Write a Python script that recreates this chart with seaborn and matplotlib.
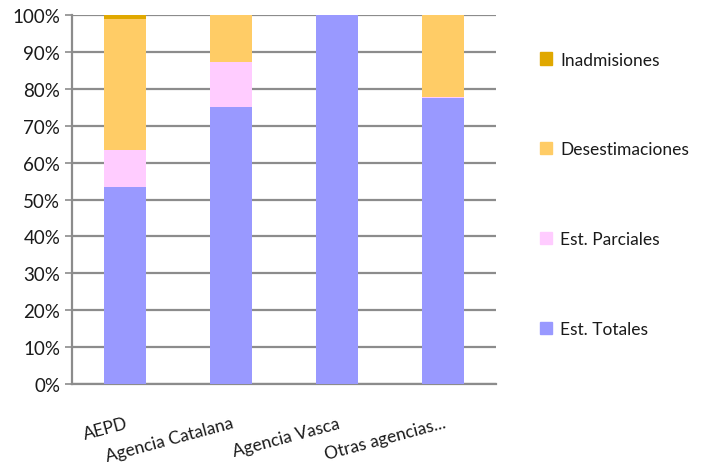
import numpy as np
import pandas as pd
import seaborn as sns
import matplotlib.pyplot as plt
from matplotlib.patches import Patch

categories = ["AEPD", "Agencia Catalana", "Agencia Vasca", "Otras agencias..."]
est_totales = [53.5, 75.1, 100.0, 77.4]
est_parciales = [9.9, 12.2, 0.0, 0.5]
desestimaciones = [35.5, 12.7, 0.0, 22.1]
inadmisiones = [1.1, 0.0, 0.0, 0.0]

series_names = ["Est. Totales", "Est. Parciales", "Desestimaciones", "Inadmisiones"]
series_vals = [est_totales, est_parciales, desestimaciones, inadmisiones]
colors = ["#9999FF", "#FFCCFF", "#FFCC66", "#E0A800"]

sns.set_style("white")
plt.rcParams["font.family"] = ["Lato", "DejaVu Sans"]
plt.rcParams["text.color"] = "#1a1a1a"
plt.rcParams["xtick.color"] = "#1a1a1a"
plt.rcParams["ytick.color"] = "#1a1a1a"

fig = plt.figure(figsize=(7.04, 4.64), dpi=100)
ax = fig.add_axes([72 / 704, 1 - 385 / 464, (496 - 72) / 704, (385 - 16) / 464])

# stacked bars, one seaborn call per series
bottom = np.zeros(len(categories))
for name, vals, col in zip(series_names, series_vals, colors):
    df = pd.DataFrame({"cat": categories, "val": vals})
    sns.barplot(data=df, x="cat", y="val", color=col, width=0.4,
                bottom=bottom, ax=ax, saturation=1, linewidth=0, zorder=3)
    bottom = bottom + np.array(vals)

ax.set_ylim(0, 100)
ax.set_xlim(-0.5, 3.5)
ax.set_yticks(np.arange(0, 101, 10))
ax.set_yticklabels([f"{v}%" for v in range(0, 101, 10)], fontsize=13.5)
ax.yaxis.grid(True, color="#8c8c8c", linewidth=1.6, zorder=0)
ax.set_axisbelow(True)
ax.set_xlabel("")
ax.set_ylabel("")

ax.set_xticks(range(len(categories)))
ax.set_xticklabels(categories, fontsize=12.5, rotation=15, ha="right",
                   va="top", rotation_mode="anchor")
ax.tick_params(axis="x", which="major", length=0, pad=22)
ax.set_xticks(np.arange(-0.5, 3.6, 1), minor=True)
ax.tick_params(axis="x", which="minor", length=5, color="#8c8c8c", width=1.2)
ax.tick_params(axis="y", length=5, color="#8c8c8c", width=1.2, left=True, labelcolor="#1a1a1a")

for s in ["top", "right"]:
    ax.spines[s].set_visible(False)
for s in ["left", "bottom"]:
    ax.spines[s].set_color("#8c8c8c")
    ax.spines[s].set_linewidth(1.6)

handles = [Patch(color=c, label=n) for n, c in zip(series_names, colors)][::-1]
fig.legend(handles=handles, loc="upper left", bbox_to_anchor=(524 / 704, 1 - 37 / 464),
           frameon=False, fontsize=12.5, labelspacing=4.25, handlelength=0.7,
           handleheight=0.7, handletextpad=0.5)

fig.savefig("out.png", dpi=100)
